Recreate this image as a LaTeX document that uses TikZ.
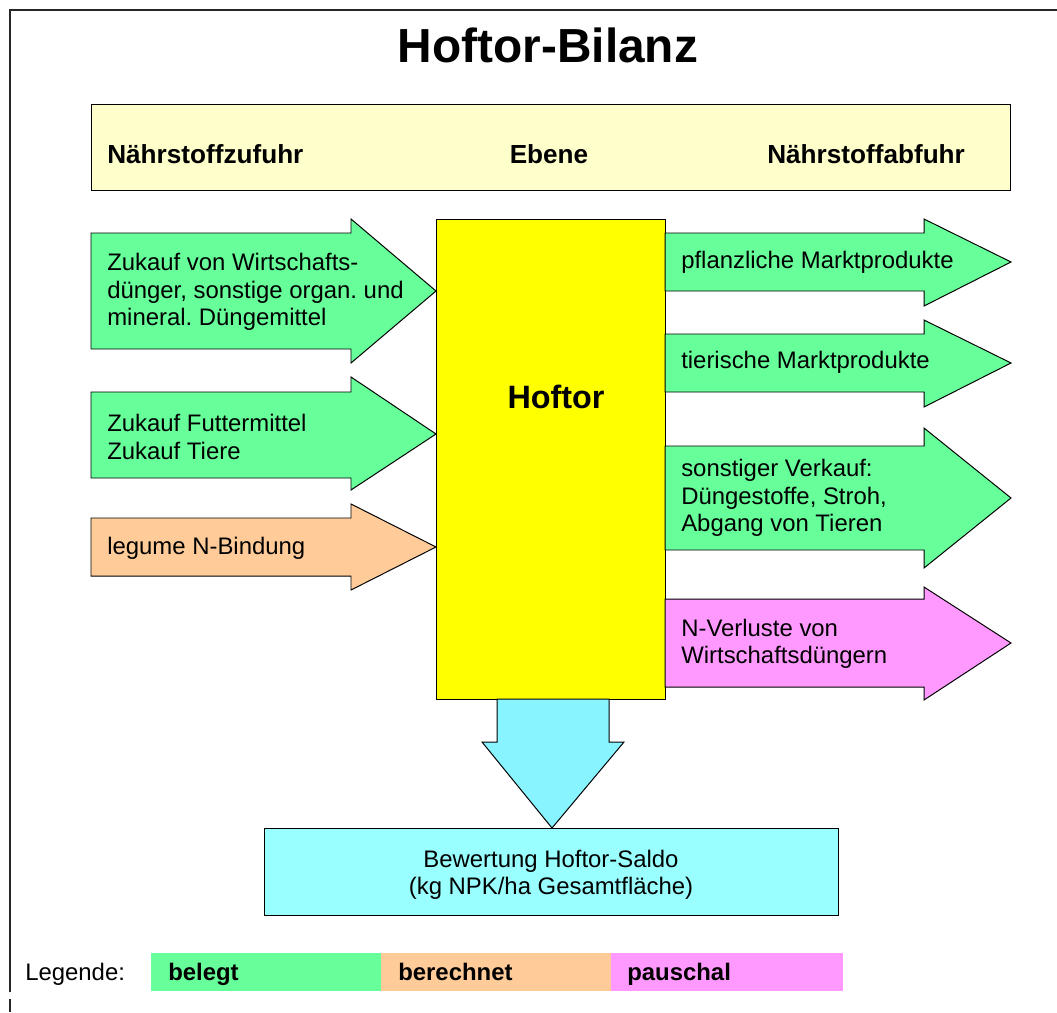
\documentclass[tikz,border=0pt]{standalone}
\usepackage{fontspec}
\setmainfont{Liberation Sans}
\frenchspacing
\definecolor{gruen}{HTML}{66FF99}
\definecolor{orange}{HTML}{FFCC99}
\definecolor{rosa}{HTML}{FF99FF}
\definecolor{gelb}{HTML}{FFFF00}
\definecolor{hellgelb}{HTML}{FFFFCC}
\definecolor{tuerkis}{HTML}{88F4FF}
\definecolor{hellblau}{HTML}{99FFFF}
\begin{document}
\begin{tikzpicture}[x=0.025cm,y=-0.025cm,
	every node/.style={font=\fontsize{17}{19.5}\selectfont,inner sep=0pt},
	lbl/.style={anchor=west,align=left},
	kopf/.style={font=\fontsize{18.6}{22}\selectfont\bfseries,anchor=base},
	form/.style={draw=black,line width=0.7pt},
	legende/.style={font=\fontsize{17}{19.5}\selectfont\bfseries,anchor=base west}]
\useasboundingbox (0,0) rectangle (1057,1012);
\draw[line width=1.4pt,draw=black!85] (1057,10) -- (10,10) -- (10,992);
\draw[line width=1.4pt,draw=black!85] (10,999) -- (10,1012);
\node[font=\fontsize{34}{40}\selectfont\bfseries,anchor=base] (titel) at (548,63) {Hoftor-Bilanz};
\draw[form,fill=hellgelb] (91,104) rectangle (1010,190);
\node[kopf,anchor=base west] (zufuhr) at (107,163) {Nährstoffzufuhr};
\node[kopf] (ebene) at (549,163) {Ebene};
\node[kopf,anchor=base west] (abfuhr) at (767,163) {Nährstoffabfuhr};
\draw[form,fill=gruen] (91,233) -- (351,233) -- (351,219) -- (436,291) -- (351,363) -- (351,349) -- (91,349) -- cycle;
\draw[form,fill=gruen] (91,392) -- (351,392) -- (351,377) -- (436,434) -- (351,490) -- (351,478) -- (91,478) -- cycle;
\draw[form,fill=orange] (91,518) -- (351,518) -- (351,504) -- (436,547) -- (351,590) -- (351,576) -- (91,576) -- cycle;
\draw[form,fill=gelb] (436,219) rectangle (665,699);
\draw[form,fill=gruen] (665,233) -- (924,233) -- (924,219) -- (1011,262) -- (924,306) -- (924,291) -- (665,291) -- cycle;
\draw[form,fill=gruen] (665,334) -- (924,334) -- (924,320) -- (1011,363) -- (924,407) -- (924,392) -- (665,392) -- cycle;
\draw[form,fill=gruen] (665,446) -- (924,446) -- (924,428) -- (1011,498) -- (924,568) -- (924,550) -- (665,550) -- cycle;
\draw[form,fill=rosa] (665,599) -- (924,599) -- (924,587) -- (1011,643) -- (924,700) -- (924,687) -- (665,687) -- cycle;
\draw[form,fill=tuerkis] (497,699) -- (609,699) -- (609,742) -- (624,742) -- (552,828) -- (482,742) -- (497,742) -- cycle;
\draw[form,fill=hellblau] (264,828) rectangle (838,915);
\node[lbl] (wirtschaft) at (107,292) {Zukauf von Wirtschafts-\\dünger, sonstige organ. und\\mineral. Düngemittel};
\node[lbl] (futter) at (107,437) {Zukauf Futtermittel\\Zukauf Tiere};
\node[lbl] (legume) at (107,548) {legume N-Bindung};
\node[font=\fontsize{23}{27}\selectfont\bfseries,anchor=base] (hoftor) at (556,408) {Hoftor};
\node[lbl] (pflanze) at (681,262) {pflanzliche Marktprodukte};
\node[lbl] (tier) at (681,362) {tierische Marktprodukte};
\node[lbl] (verkauf) at (681,498) {sonstiger Verkauf:\\Düngestoffe, Stroh,\\Abgang von Tieren};
\node[lbl] (verluste) at (681,644) {N-Verluste von\\Wirtschaftsdüngern};
\node[align=center] (saldo) at (551,875) {Bewertung Hoftor-Saldo\\(kg NPK/ha Gesamtfläche)};
\node[anchor=base west] (legende) at (25,980) {Legende:};
\fill[gruen] (151,953) rectangle (381,991);
\fill[orange] (381,953) rectangle (611,991);
\fill[rosa] (611,953) rectangle (843,991);
\node[legende] (belegt) at (168,980) {belegt};
\node[legende] (berechnet) at (398,980) {berechnet};
\node[legende] (pauschal) at (627,980) {pauschal};
\end{tikzpicture}
\end{document}
